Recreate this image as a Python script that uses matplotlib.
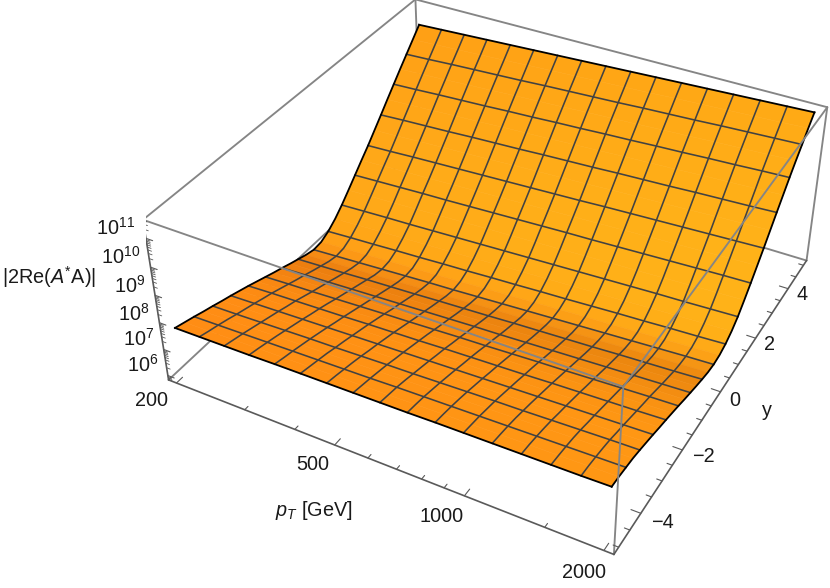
#! /usr/bin/env python3
import numpy as np
import matplotlib
matplotlib.use('Agg')
import matplotlib.pyplot as plt
from matplotlib.colors import to_rgb

plt.rcParams['font.family'] = ['Liberation Sans', 'DejaVu Sans']
plt.rcParams['mathtext.fontset'] = 'custom'
plt.rcParams['mathtext.rm'] = 'Liberation Sans'
plt.rcParams['mathtext.it'] = 'Liberation Sans:italic'
plt.rcParams['mathtext.default'] = 'regular'

pt_mesh = [200, 231, 267, 308, 356, 411, 475, 548, 632, 730, 843, 974, 1125, 1299, 1500, 1732, 2000]
y_samples = [-5, -4.6875, -4.375, -4.0625, -3.75, -3.4375, -3.125, -2.8125, -2.5, -2.1875, -1.875,
             -1.5625, -1.25, -0.9375, -0.625, -0.3125, 0, 0.3125, 0.625, 0.9375, 1.25, 1.5625, 1.875,
             2.1875, 2.5, 2.8125, 3.125, 3.4375, 3.75, 4.0625, 4.375, 4.6875, 5]

# log10 |2Re(A*A)|, one row per y sample, one column per pT mesh value
log_z = np.array([
    [7.71, 7.72, 7.73, 7.74, 7.76, 7.77, 7.78, 7.79, 7.80, 7.81, 7.83, 7.84, 7.85, 7.86, 7.87, 7.88, 7.90],
    [7.61, 7.62, 7.64, 7.66, 7.67, 7.69, 7.71, 7.72, 7.74, 7.76, 7.78, 7.79, 7.81, 7.83, 7.84, 7.86, 7.88],
    [7.51, 7.53, 7.55, 7.57, 7.59, 7.61, 7.63, 7.65, 7.68, 7.70, 7.72, 7.74, 7.76, 7.78, 7.80, 7.82, 7.84],
    [7.40, 7.43, 7.45, 7.48, 7.50, 7.53, 7.55, 7.57, 7.60, 7.62, 7.65, 7.67, 7.70, 7.72, 7.75, 7.77, 7.80],
    [7.30, 7.32, 7.35, 7.38, 7.41, 7.43, 7.46, 7.49, 7.51, 7.54, 7.57, 7.60, 7.62, 7.65, 7.68, 7.71, 7.73],
    [7.19, 7.22, 7.25, 7.28, 7.31, 7.34, 7.36, 7.39, 7.42, 7.45, 7.48, 7.51, 7.54, 7.56, 7.59, 7.62, 7.65],
    [7.09, 7.12, 7.15, 7.18, 7.21, 7.24, 7.27, 7.30, 7.33, 7.36, 7.39, 7.42, 7.45, 7.48, 7.51, 7.54, 7.57],
    [6.98, 7.01, 7.04, 7.07, 7.10, 7.14, 7.17, 7.20, 7.23, 7.26, 7.29, 7.33, 7.36, 7.39, 7.42, 7.45, 7.48],
    [6.87, 6.91, 6.94, 6.97, 7.00, 7.04, 7.07, 7.10, 7.14, 7.17, 7.20, 7.23, 7.27, 7.30, 7.33, 7.36, 7.40],
    [6.75, 6.79, 6.82, 6.86, 6.89, 6.93, 6.96, 7.00, 7.03, 7.07, 7.10, 7.14, 7.17, 7.20, 7.24, 7.27, 7.31],
    [6.63, 6.67, 6.70, 6.74, 6.78, 6.82, 6.85, 6.89, 6.93, 6.96, 7.00, 7.04, 7.07, 7.11, 7.15, 7.19, 7.22],
    [6.51, 6.55, 6.59, 6.63, 6.67, 6.70, 6.74, 6.78, 6.82, 6.86, 6.90, 6.93, 6.97, 7.01, 7.05, 7.09, 7.12],
    [6.40, 6.44, 6.48, 6.52, 6.56, 6.60, 6.64, 6.68, 6.72, 6.75, 6.79, 6.83, 6.87, 6.91, 6.95, 6.99, 7.03],
    [6.28, 6.32, 6.36, 6.41, 6.45, 6.49, 6.53, 6.57, 6.61, 6.65, 6.69, 6.73, 6.77, 6.82, 6.86, 6.90, 6.94],
    [6.17, 6.21, 6.25, 6.30, 6.34, 6.38, 6.43, 6.47, 6.51, 6.56, 6.60, 6.64, 6.68, 6.73, 6.77, 6.81, 6.86],
    [6.06, 6.10, 6.15, 6.19, 6.24, 6.29, 6.33, 6.38, 6.43, 6.47, 6.52, 6.56, 6.61, 6.66, 6.70, 6.75, 6.79],
    [5.98, 6.03, 6.08, 6.13, 6.18, 6.23, 6.27, 6.32, 6.37, 6.42, 6.47, 6.52, 6.57, 6.62, 6.67, 6.72, 6.76],
    [6.01, 6.06, 6.11, 6.16, 6.20, 6.25, 6.30, 6.35, 6.40, 6.45, 6.50, 6.55, 6.59, 6.64, 6.69, 6.74, 6.79],
    [6.16, 6.21, 6.25, 6.30, 6.34, 6.39, 6.43, 6.48, 6.52, 6.57, 6.61, 6.66, 6.71, 6.75, 6.80, 6.84, 6.89],
    [6.39, 6.44, 6.48, 6.52, 6.56, 6.60, 6.64, 6.69, 6.73, 6.77, 6.81, 6.85, 6.89, 6.94, 6.98, 7.02, 7.06],
    [6.68, 6.72, 6.76, 6.79, 6.83, 6.87, 6.91, 6.95, 6.99, 7.03, 7.07, 7.11, 7.15, 7.19, 7.22, 7.26, 7.30],
    [7.01, 7.05, 7.08, 7.12, 7.16, 7.20, 7.24, 7.27, 7.31, 7.35, 7.39, 7.43, 7.46, 7.50, 7.54, 7.58, 7.62],
    [7.35, 7.39, 7.43, 7.47, 7.50, 7.54, 7.58, 7.62, 7.66, 7.70, 7.73, 7.77, 7.81, 7.85, 7.89, 7.93, 7.96],
    [7.69, 7.73, 7.77, 7.80, 7.84, 7.88, 7.92, 7.96, 8.00, 8.04, 8.08, 8.12, 8.16, 8.20, 8.24, 8.28, 8.32],
    [8.02, 8.06, 8.11, 8.15, 8.19, 8.23, 8.27, 8.31, 8.35, 8.39, 8.44, 8.48, 8.52, 8.56, 8.60, 8.64, 8.68],
    [8.38, 8.42, 8.47, 8.51, 8.55, 8.59, 8.64, 8.68, 8.72, 8.76, 8.81, 8.85, 8.89, 8.93, 8.98, 9.02, 9.06],
    [8.74, 8.79, 8.83, 8.87, 8.92, 8.96, 9.00, 9.05, 9.09, 9.13, 9.18, 9.22, 9.26, 9.31, 9.35, 9.39, 9.44],
    [9.11, 9.15, 9.19, 9.24, 9.28, 9.33, 9.37, 9.41, 9.46, 9.50, 9.55, 9.59, 9.63, 9.68, 9.72, 9.76, 9.81],
    [9.47, 9.51, 9.56, 9.60, 9.64, 9.69, 9.73, 9.78, 9.82, 9.87, 9.91, 9.96, 10.00, 10.05, 10.09, 10.14, 10.18],
    [9.83, 9.87, 9.91, 9.96, 10.00, 10.05, 10.09, 10.13, 10.18, 10.22, 10.26, 10.31, 10.35, 10.40, 10.44, 10.48, 10.53],
    [10.18, 10.22, 10.27, 10.31, 10.35, 10.39, 10.44, 10.48, 10.52, 10.56, 10.61, 10.65, 10.69, 10.74, 10.78, 10.82, 10.86],
    [10.53, 10.57, 10.61, 10.65, 10.69, 10.74, 10.78, 10.82, 10.86, 10.90, 10.94, 10.99, 11.03, 11.07, 11.11, 11.15, 11.20],
    [10.88, 10.92, 10.96, 11.00, 11.04, 11.08, 11.12, 11.16, 11.20, 11.24, 11.28, 11.32, 11.36, 11.40, 11.44, 11.48, 11.52],
])

row_colors = ['#FF9514', '#FF9514', '#FF9514', '#FF9514', '#FF9514', '#FF9514', '#FE9413', '#FD9313',
              '#FB9212', '#F99012', '#F68E12', '#F38B11', '#EF8810', '#EC860F', '#EE8910', '#F59314',
              '#FC9F16', '#FFA817', '#FFAD17', '#FFAF18', '#FFB018', '#FFB018', '#FFB018', '#FFB018',
              '#FFAF18', '#FFAE18', '#FFAD17', '#FFAC17', '#FFAB17', '#FFAA16', '#FFA916', '#FFA815']
col_shift = [-.03, -.027, -.024, -.021, -.018, -.015, -.012, -.009, -.006, -.003, 0, 0, .003, .003, .006, .006]

x_ticks_major = [200, 500, 1000, 2000]
x_ticks_minor = [300, 400, 600, 700, 800, 900, 1500]
y_ticks_major = [-4, -2, 0, 2, 4]
y_ticks_minor = [-5, -4.5, -3.5, -3, -2.5, -1.5, -1, -0.5, 0.5, 1, 1.5, 2.5, 3, 3.5, 4.5, 5]
z_ticks_major = [6, 7, 8, 9, 10, 11]

x0, x1 = 2.2802, 3.3218
y0, y1 = -5.208, 5.208
z0, z1 = 5.83, 11.63

fig = plt.figure(figsize=(8.3, 5.88), dpi=100)
ax = fig.add_axes([146.17 / 830, -9.77 / 588, 693.17 / 830, 693.17 / 588],
                  projection='3d', computed_zorder=False)
ax.view_init(36.2702, -61.4470, 0.0821)
ax.set_proj_type('persp', focal_length=0.4396)
ax.set_box_aspect((2.5018, 2.5021, 1.0))
ax.set_xlim(x0, x1)
ax.set_ylim(y0, y1)
ax.set_zlim(z0, z1)
ax.set_axis_off()

X, Y = np.meshgrid(np.log10(pt_mesh), y_samples)
fc = np.ones(log_z.shape + (4,))
for i, c in enumerate(row_colors):
    for j, s in enumerate(col_shift):
        r, g, b = to_rgb(c)
        fc[i, j, :3] = r, min(g + s, 1), b
ax.plot_surface(X, Y, log_z, rstride=1, cstride=1, facecolors=fc, shade=False, linewidth=0.4, zorder=2)

# mesh lines, every second y sample
mesh = '#424242'
for i in range(2, 32, 2):
    ax.plot(X[i], Y[i], log_z[i], color=mesh, lw=1.15, zorder=2.2)
for j in range(1, 16):
    ax.plot(X[:, j], Y[:, j], log_z[:, j], color=mesh, lw=1.15, zorder=2.2)

# surface outline
ax.plot(X[0], Y[0], log_z[0], color='black', lw=1.3, zorder=2.5)
ax.plot(X[-1], Y[-1], log_z[-1], color='black', lw=1.3, zorder=2.5)
ax.plot(X[:, 0], Y[:, 0], log_z[:, 0], color='black', lw=1.3, zorder=2.5)
ax.plot(X[:, -1], Y[:, -1], log_z[:, -1], color='black', lw=1.3, zorder=2.5)


def seg(a, b, color='#858585', lw=1.35, zorder=1):
    ax.plot([a[0], b[0]], [a[1], b[1]], [a[2], b[2]], color=color, lw=lw, zorder=zorder,
            solid_capstyle='round')


# back box edges
seg((x0, y1, z0), (x1, y1, z0))
seg((x0, y0, z0), (x0, y1, z0))
seg((x0, y1, z0), (x0, y1, z1))
seg((x1, y1, z0), (x1, y1, z1))
seg((x0, y1, z1), (x1, y1, z1))
seg((x0, y0, z1), (x0, y1, z1))
# front box edges, over the surface
seg((x0, y0, z1), (x1, y0, z1), zorder=3)
seg((x1, y0, z0), (x1, y0, z1), zorder=3)
seg((x1, y0, z1), (x1, y1, z1), zorder=3)
# axes
axc = '#5a5a5a'
seg((x0, y0, z0), (x1, y0, z0), color=axc, lw=1.2, zorder=3)
seg((x1, y0, z0), (x1, y1, z0), color=axc, lw=1.2, zorder=3)
seg((x0, y0, z0), (x0, y0, z1), color=axc, lw=1.2, zorder=3)

xr, yr = x1 - x0, y1 - y0
for t, l in [(t, .02) for t in x_ticks_major] + [(t, .011) for t in x_ticks_minor]:
    u = np.log10(t)
    seg((u, y0, z0), (u, y0 + l * yr, z0), color=axc, lw=0.8, zorder=3)
for t, l in [(t, .02) for t in y_ticks_major] + [(t, .011) for t in y_ticks_minor]:
    seg((x1, t, z0), (x1 - l * xr, t, z0), color=axc, lw=0.8, zorder=3)
for d in z_ticks_major:
    seg((x0, y0, d), (x0 + .016 * xr, y0, d), color=axc, lw=0.8, zorder=3)
for d in [5] + z_ticks_major:
    for m in range(2, 10):
        v = d + np.log10(m)
        if z0 <= v <= z1:
            seg((x0, y0, v), (x0 + .009 * xr, y0, v), color=axc, lw=0.6, zorder=3)


def label(px, py, s):
    fig.text(px / 830, 1 - py / 588, s, ha='center', va='center', fontsize=14.3, color='#1a1a1a')


label(116, 228, r'$10^{11}$')
label(121, 257, r'$10^{10}$')
label(130, 286, r'$10^{9}$')
label(134, 314, r'$10^{8}$')
label(139, 339, r'$10^{7}$')
label(143, 365, r'$10^{6}$')
label(49, 277, r'$|2\mathrm{Re}(\mathit{A}^{*}\mathrm{A})|$')
label(152, 401, '200')
label(313, 465, '500')
label(441.5, 517, '1000')
label(584, 572, '2000')
label(314, 510, r'$\mathit{p}_{\mathit{T}}$ [GeV]')
label(662, 522, '\u22124')
label(703, 457, '\u22122')
label(735, 400, '0')
label(769, 345, '2')
label(802, 295, '4')
label(767, 411, 'y')

fig.savefig('out.png', dpi=100)
